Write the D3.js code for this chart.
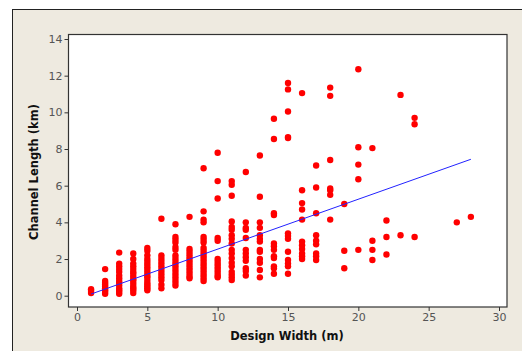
<!DOCTYPE html>
<html><head><meta charset="utf-8">
<script src="https://cdn.jsdelivr.net/npm/d3@7"></script>
<style>body{margin:0;background:#fff;}svg{display:block;}</style>
</head><body><svg id="c" width="522" height="351"></svg>
<script>
// Design width (m) columns and the channel lengths (km) observed at each
const widths = [1,2,3,4,5,6,7,8,9,10,11,12,13,14,15,16,17,18,19,20,21,22,23,24,27,28];
const lengths = [
  [0.15,0.25,0.35],
  [1.45,0.8,0.7,0.6,0.5,0.4,0.3,0.2,0.1],
  [2.35,1.75,1.6,1.45,1.3,1.1,0.95,0.8,0.7,0.55,0.4,0.3,0.2,0.1],
  [2.3,2.0,1.75,1.6,1.45,1.3,1.2,1.05,0.9,0.8,0.65,0.5,0.4,0.3,0.15],
  [2.6,2.45,2.2,2.0,1.85,1.7,1.55,1.4,1.25,1.1,1.0,0.85,0.7,0.6,0.5,0.4,0.3],
  [4.2,2.2,2.05,1.9,1.75,1.6,1.45,1.3,1.15,1.0,0.85,0.6,0.4],
  [3.9,3.2,3.05,2.9,2.65,2.5,2.2,2.05,1.9,1.75,1.6,1.45,1.3,1.15,1.0,0.85,0.7,0.55],
  [4.3,2.55,2.4,2.25,2.1,1.95,1.8,1.65,1.5,1.35,1.2,1.05,0.95],
  [6.95,4.6,4.15,4.0,3.2,3.05,2.9,2.6,2.45,2.3,2.15,2.0,1.85,1.7,1.55,1.4,1.25,1.1,0.95,0.8],
  [7.8,6.25,5.3,3.15,3.0,2.0,1.85,1.7,1.55,1.4,1.25,1.1,1.0],
  [6.25,6.05,5.45,4.05,3.75,3.6,3.3,3.1,2.85,2.5,2.3,2.05,1.8,1.6,1.3,1.15,1.0,0.85],
  [6.75,4.0,3.7,3.6,3.15,2.5,2.3,2.1,1.9,1.5,1.35,1.1],
  [7.65,5.4,4.0,3.7,3.3,3.1,2.95,2.5,2.4,2.0,1.8,1.4,1.0],
  [9.65,8.55,4.5,4.4,2.85,2.7,2.5,2.15,2.05,1.6,1.5,1.2],
  [11.6,11.25,10.05,8.65,8.6,3.4,3.25,3.1,2.4,1.95,1.75,1.6,1.2],
  [11.05,5.75,5.05,4.7,4.15,2.95,2.75,2.55,2.3,2.15,2.0],
  [7.1,5.9,4.5,3.3,3.0,2.8,2.3,2.15,1.95],
  [11.35,10.9,7.4,5.85,5.75,5.5,4.15],
  [5.0,2.45,1.5],
  [12.35,8.1,7.15,6.35,2.5],
  [8.05,3.0,2.5,1.95],
  [4.1,3.2,2.25],
  [10.95,3.3],
  [9.7,9.35,3.2],
  [4.0],
  [4.3]
];
const xTicks = [0,5,10,15,20,25,30];
const yTicks = [0,2,4,6,8,10,12,14];
const fitLine = [[1,0.09],[28,7.44]];

const svg = d3.select("#c");
// panel
svg.append("rect").attr("x",12.5).attr("y",9.5).attr("width",520).attr("height",350)
  .attr("fill","#EEEAE0").attr("stroke","#222").attr("stroke-width",1);

const L=68.5,T=34.5,R=507,B=307;
const x = d3.scaleLinear().domain([0,30]).range([77,499]);
const y = d3.scaleLinear().domain([0,14]).range([295.7,39]);

svg.append("rect").attr("x",L).attr("y",T).attr("width",R-L).attr("height",B-T)
  .attr("fill","#fff").attr("stroke","#333").attr("stroke-width",1.2);

const xAxis = svg.append("g").attr("transform",`translate(0,${B})`)
  .call(d3.axisBottom(x).tickValues(xTicks).tickSize(4).tickPadding(2).tickFormat(d3.format("d")));
const yAxis = svg.append("g").attr("transform",`translate(${L},0)`)
  .call(d3.axisLeft(y).tickValues(yTicks).tickSize(4).tickPadding(2).tickFormat(d3.format("d")));
[xAxis,yAxis].forEach(g=>{
  g.select(".domain").remove();
  g.selectAll(".tick line").attr("stroke","#333");
  g.selectAll(".tick text").attr("fill","#555").style("font-family","DejaVu Sans, Verdana, sans-serif").style("font-size","11px");
});

const pts = [];
widths.forEach((w,i)=>lengths[i].forEach(v=>pts.push([w,v])));
svg.append("g").selectAll("circle").data(pts).join("circle")
  .attr("cx",d=>x(d[0])).attr("cy",d=>y(d[1])).attr("r",3.2).attr("fill","#FF0000");

svg.append("path").datum(fitLine)
  .attr("d",d3.line().x(d=>x(d[0])).y(d=>y(d[1])))
  .attr("stroke","#2222FF").attr("stroke-width",1).attr("fill","none");

svg.append("text").attr("x",287).attr("y",340).attr("text-anchor","middle")
  .style("font-family","DejaVu Sans, Verdana, sans-serif").style("font-size","11.5px").style("font-weight","bold")
  .attr("fill","#111").text("Design Width (m)");
svg.append("text").attr("transform","translate(38,172) rotate(-90)").attr("text-anchor","middle")
  .style("font-family","DejaVu Sans, Verdana, sans-serif").style("font-size","11.5px").style("font-weight","bold")
  .attr("fill","#111").text("Channel Length (km)");
</script></body></html>
